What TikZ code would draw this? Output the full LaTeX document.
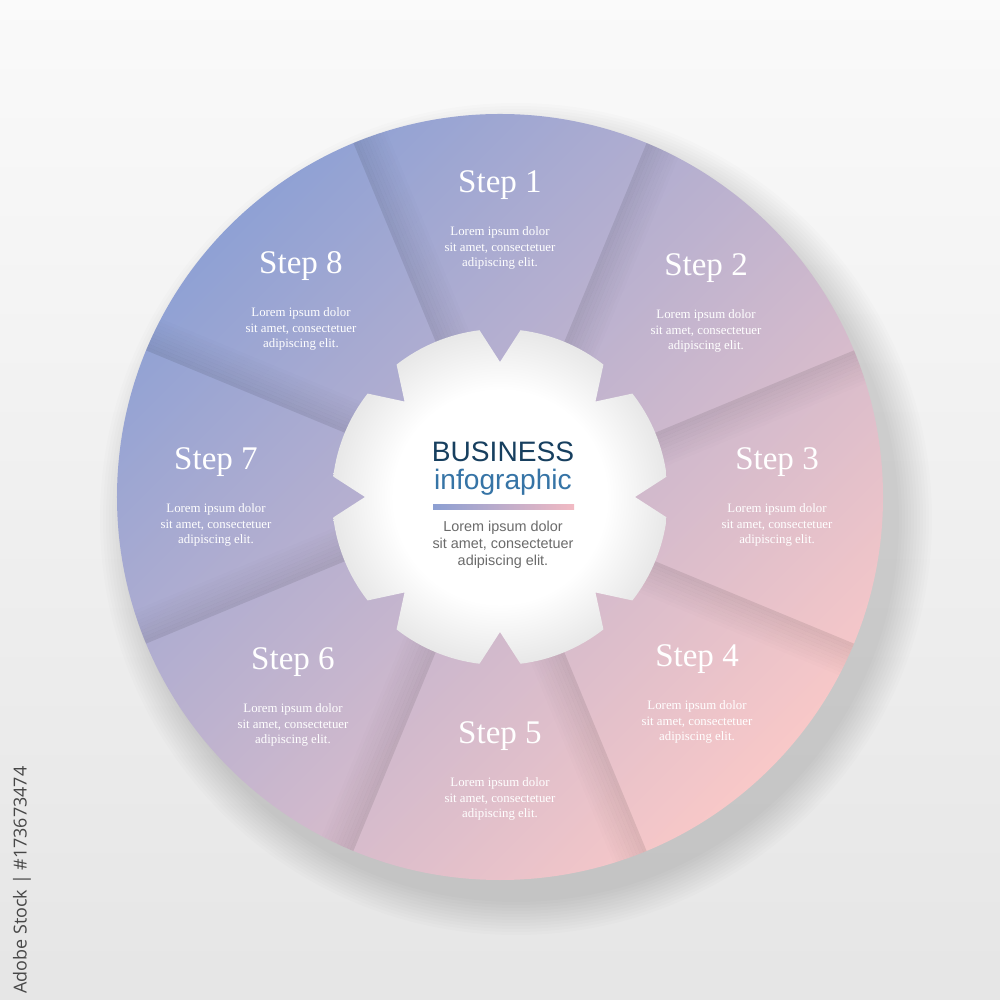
\documentclass[tikz,border=0pt]{standalone}
\usepackage{fontspec}
\setmainfont{Liberation Serif}
\setsansfont{Liberation Sans}
\newfontfamily\stockfont{Open Sans}
\usetikzlibrary{positioning}
\definecolor{ringblue}{HTML}{8FA1D4}
\definecolor{ringpink}{HTML}{F8C8C8}
\definecolor{bizblue}{HTML}{173F5F}
\definecolor{infoblue}{HTML}{3674A6}
\definecolor{bodygray}{HTML}{6B6B6B}
\definecolor{barblue}{HTML}{8C9FD2}
\definecolor{barpink}{HTML}{F2BAC3}
\pgfdeclareradialshading{gearshade}{\pgfpoint{0bp}{0bp}}{color(0bp)=(white); color(16bp)=(white); color(25bp)=(black!9); color(50bp)=(black!9)}
\begin{document}
\begin{tikzpicture}[
    steptitle/.style={text=white, font=\fontsize{9.4}{11}\selectfont, inner sep=0},
    stepbody/.style={text=white, font=\fontsize{3.65}{4.4}\selectfont, align=center, inner sep=0},
    centertext/.style={font=\sffamily\fontsize{8}{9.6}\selectfont, inner sep=0},
  ]
  \shade[top color=black!2, bottom color=black!10] (-5,-5.03) rectangle (5,4.97);
  \useasboundingbox (-5,-5.03) rectangle (5,4.97);

  \foreach \i in {1,...,12}
    \fill[black, opacity=0.01] (0.16,-0.22) circle ({3.8+0.03*\i});

  \shade[top color=ringblue, bottom color=ringpink, shading angle=45] (0,0) circle (3.83);

  \begin{scope}
    \clip (0,0) circle (3.83);
    \foreach \a in {0,...,7}
      \foreach \i in {0,...,9}{
        \pgfmathsetmacro\op{0.09*(1-\i/10)}
        \fill[black, opacity=\op, rotate={67.5-45*\a}] (1.5,{-0.035*\i}) rectangle (3.9,{-0.035*(\i+1)});
      }
  \end{scope}

  \shade[shading=gearshade] (97:1.68) \foreach \k in {0,...,7}{ -- ({97-45*\k}:1.68) -- ({90-45*\k}:1.35) -- ({83-45*\k}:1.68) arc[start angle={83-45*\k}, end angle={52-45*\k}, radius=1.68] } -- cycle;

  \node[centertext, text=bizblue] (biz) at (0.03,0.45) {BUSINESS};
  \node[centertext, text=infoblue, below=0.6mm of biz] (info) {infographic};
  \node[left color=barblue, right color=barpink, minimum width=1.41cm, minimum height=0.5mm, inner sep=0] (bar) at (0.035,-0.105) {};
  \node[font=\sffamily\fontsize{4.1}{4.8}\selectfont, text=bodygray, align=center, inner sep=0] (lorem) at (0.03,-0.48) {Lorem ipsum dolor\\sit amet, consectetuer\\adipiscing elit.};

  \foreach \n/\x/\y in {1/0/3.12, 2/2.06/2.29, 3/2.77/0.35, 4/1.97/-1.62, 5/0/-2.39, 6/-2.07/-1.65, 7/-2.84/0.35, 8/-1.99/2.31}{
    \node[steptitle] (t\n) at (\x,\y) {Step \n};
    \node[stepbody, below=2.6mm of t\n] (b\n) {Lorem ipsum dolor\\sit amet, consectetuer\\adipiscing elit.};
  }

  \node[rotate=90, font=\stockfont\fontsize{5.1}{6}\selectfont, text=black!72, inner sep=0] (stock) at (-4.78,-3.83) {Adobe Stock | \#173673474};
\end{tikzpicture}
\end{document}
